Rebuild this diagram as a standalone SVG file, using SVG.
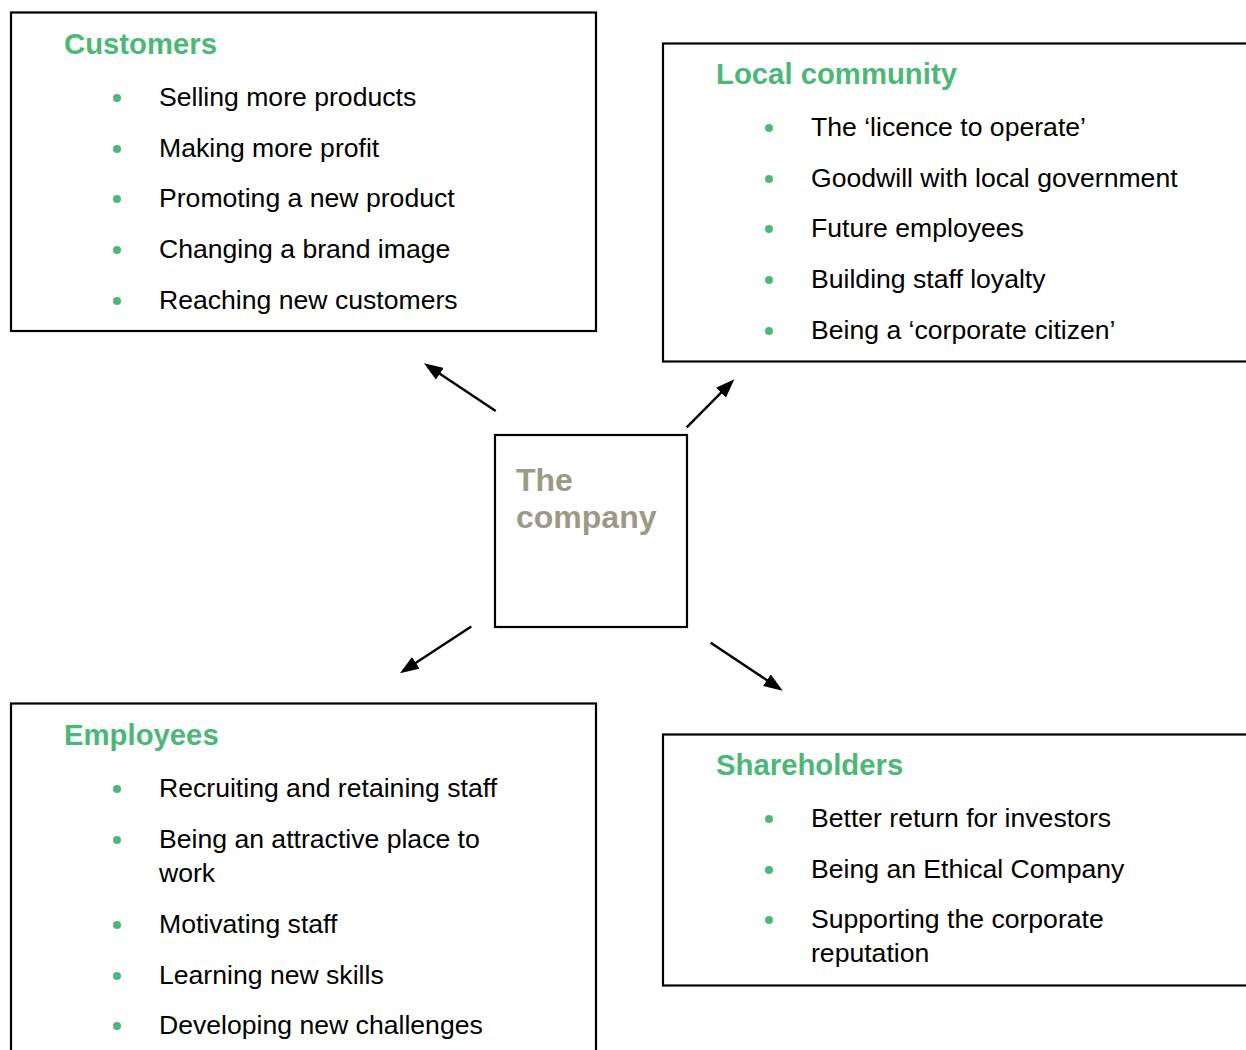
<svg xmlns="http://www.w3.org/2000/svg" width="1246" height="1050" viewBox="0 0 1246 1050">
  <style>
    .box { fill: #ffffff; stroke: #000000; stroke-width: 2.2; }
    .title { font-family: "Liberation Sans", Arial, sans-serif; font-weight: bold; font-size: 29.3px; fill: #4cb878; }
    .item { font-family: "Liberation Sans", Arial, sans-serif; font-size: 26.6px; fill: #000000; }
    .dot { fill: #4cb878; }
    .core { font-family: "Liberation Sans", Arial, sans-serif; font-weight: bold; font-size: 32px; fill: #9c9a86; }
    .link { stroke: #000000; stroke-width: 2.4; fill: none; marker-end: url(#head); }
  </style>
  <defs>
    <marker id="head" markerUnits="userSpaceOnUse" markerWidth="20" markerHeight="14" refX="9" refY="7" orient="auto">
      <path d="M0,0 L19,7 L0,14 Z" fill="#000000"/>
    </marker>
  </defs>
  <rect width="1246" height="1050" fill="#ffffff"/>

  <!-- Customers -->
  <g id="customers">
    <rect class="box" x="11" y="12.5" width="585" height="318.5"/>
    <text class="title" x="64" y="54">Customers</text>
    <circle class="dot" cx="117" cy="98" r="4"/>
    <text class="item" x="159" y="106">Selling more products</text>
    <circle class="dot" cx="117" cy="149" r="4"/>
    <text class="item" x="159" y="157">Making more profit</text>
    <circle class="dot" cx="117" cy="199" r="4"/>
    <text class="item" x="159" y="207">Promoting a new product</text>
    <circle class="dot" cx="117" cy="250" r="4"/>
    <text class="item" x="159" y="258">Changing a brand image</text>
    <circle class="dot" cx="117" cy="301" r="4"/>
    <text class="item" x="159" y="309">Reaching new customers</text>
  </g>

  <!-- Local community (runs past the right edge) -->
  <g id="local-community">
    <rect class="box" x="663" y="43.5" width="600" height="318"/>
    <text class="title" x="716" y="84">Local community</text>
    <circle class="dot" cx="769" cy="128" r="4"/>
    <text class="item" x="811" y="136">The ‘licence to operate’</text>
    <circle class="dot" cx="769" cy="179" r="4"/>
    <text class="item" x="811" y="187">Goodwill with local government</text>
    <circle class="dot" cx="769" cy="229" r="4"/>
    <text class="item" x="811" y="237">Future employees</text>
    <circle class="dot" cx="769" cy="280" r="4"/>
    <text class="item" x="811" y="288">Building staff loyalty</text>
    <circle class="dot" cx="769" cy="331" r="4"/>
    <text class="item" x="811" y="339">Being a ‘corporate citizen’</text>
  </g>

  <!-- The company -->
  <g id="company">
    <rect class="box" x="495" y="435" width="192" height="192"/>
    <text class="core" x="516" y="491">The</text>
    <text class="core" x="516" y="528">company</text>
  </g>

  <!-- Employees (runs past the bottom edge) -->
  <g id="employees">
    <rect class="box" x="11" y="703.5" width="585" height="400"/>
    <text class="title" x="64" y="745">Employees</text>
    <circle class="dot" cx="117" cy="789" r="4"/>
    <text class="item" x="159" y="797">Recruiting and retaining staff</text>
    <circle class="dot" cx="117" cy="840" r="4"/>
    <text class="item" x="159" y="848">Being an attractive place to</text>
    <text class="item" x="159" y="882">work</text>
    <circle class="dot" cx="117" cy="925" r="4"/>
    <text class="item" x="159" y="933">Motivating staff</text>
    <circle class="dot" cx="117" cy="976" r="4"/>
    <text class="item" x="159" y="984">Learning new skills</text>
    <circle class="dot" cx="117" cy="1026" r="4"/>
    <text class="item" x="159" y="1034">Developing new challenges</text>
  </g>

  <!-- Shareholders (runs past the right edge) -->
  <g id="shareholders">
    <rect class="box" x="663" y="734.5" width="600" height="251"/>
    <text class="title" x="716" y="775">Shareholders</text>
    <circle class="dot" cx="769" cy="819" r="4"/>
    <text class="item" x="811" y="827">Better return for investors</text>
    <circle class="dot" cx="769" cy="870" r="4"/>
    <text class="item" x="811" y="878">Being an Ethical Company</text>
    <circle class="dot" cx="769" cy="920" r="4"/>
    <text class="item" x="811" y="928">Supporting the corporate</text>
    <text class="item" x="811" y="962">reputation</text>
  </g>

  <!-- Connectors from the company to each stakeholder -->
  <g id="connectors">
    <line class="link" x1="495.7" y1="411" x2="432.3" y2="368.8"/>
    <line class="link" x1="686.7" y1="427.3" x2="727.3" y2="386.4"/>
    <line class="link" x1="471.3" y1="626.5" x2="408.3" y2="667.8"/>
    <line class="link" x1="710.7" y1="642.7" x2="774.4" y2="685.2"/>
  </g>
</svg>
